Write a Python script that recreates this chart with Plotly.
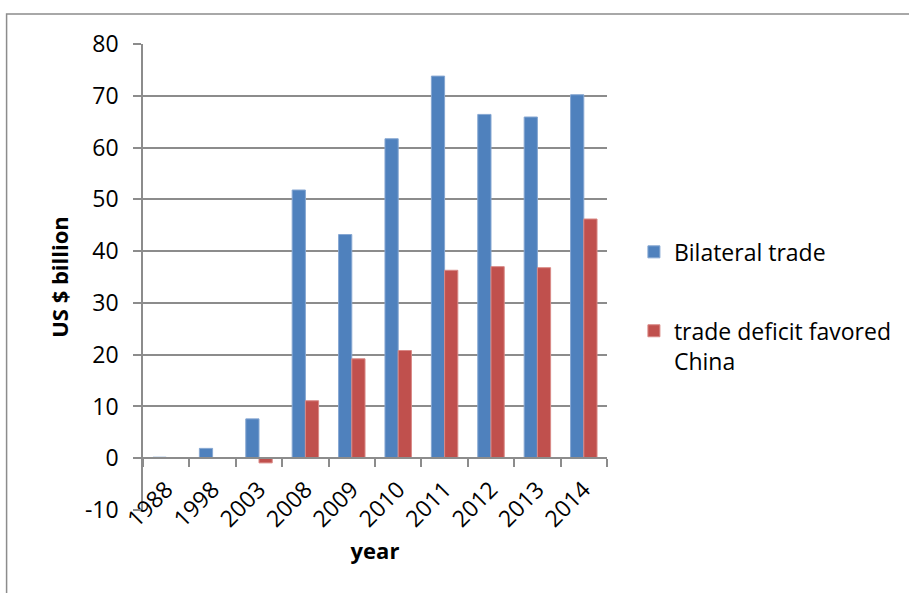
import plotly.graph_objects as go

# Values in US $ billion
years = ["1988", "1998", "2003", "2008", "2009", "2010", "2011", "2012", "2013", "2014"]
bilateral_trade = [0.2, 1.9, 7.6, 51.8, 43.2, 61.7, 73.8, 66.4, 65.9, 70.2]
trade_deficit = [0.0, 0.0, -0.9, 11.1, 19.2, 20.8, 36.3, 37.0, 36.8, 46.2]
y_ticks = [-10, 0, 10, 20, 30, 40, 50, 60, 70, 80]

Y_MIN, Y_MAX = -10, 80
FONT = "'Open Sans', Lato, sans-serif"
FS = 23
GRID = "#8c8c8c"

fig = go.Figure()
fig.add_trace(go.Bar(
    x=years, y=bilateral_trade, name="Bilateral trade",
    marker=dict(color="#4F81BD", line=dict(color="#86a7d2", width=1)),
    legendgroup="a",
))
fig.add_trace(go.Bar(
    x=years, y=trade_deficit, name="trade deficit favored<br>China",
    marker=dict(color="#C0504D", line=dict(color="#d98986", width=1)),
    legendgroup="b",
))

# the category axis sits on the zero line, as in a spreadsheet chart
zero_pos = (0 - Y_MIN) / (Y_MAX - Y_MIN)

fig.update_layout(
    width=909, height=593,
    margin=dict(l=143, r=300, t=44, b=83),
    paper_bgcolor="white", plot_bgcolor="white",
    font=dict(family=FONT, size=FS, color="black"),
    barmode="group", bargap=0.43, bargroupgap=0,
    showlegend=True,
    legend=dict(
        x=1.058, y=0.60, xanchor="left", yanchor="top",
        traceorder="grouped", tracegroupgap=46, valign="top",
        font=dict(family=FONT, size=FS, color="black"),
        bgcolor="rgba(0,0,0,0)",
    ),
    xaxis=dict(
        type="category", anchor="free", position=zero_pos,
        showline=True, linecolor=GRID, linewidth=1.5,
        ticks="outside", ticklen=8, tickwidth=1.5, tickcolor=GRID,
        tickson="boundaries", tickangle=-45,
        ticklabelstandoff=8,
        showgrid=False,
        tickfont=dict(family=FONT, size=FS, color="black"),
        title=dict(text="<b>year</b>", font=dict(family=FONT, size=FS - 1, color="black"), standoff=10),
    ),
    yaxis=dict(
        range=[Y_MIN, Y_MAX], tickvals=y_ticks, ticktext=[str(v) for v in y_ticks],
        showline=True, linecolor=GRID, linewidth=1.5,
        ticks="outside", ticklen=8, tickwidth=1.5, tickcolor=GRID,
        showgrid=True, gridcolor=GRID, gridwidth=1.5,
        zeroline=False,
        ticklabelstandoff=10,
        tickfont=dict(family=FONT, size=FS, color="black"),
        title=dict(text="<b>US $ billion</b>", font=dict(family=FONT, size=FS - 1, color="black"), standoff=10),
    ),
    shapes=[dict(
        type="rect", xref="paper", yref="paper",
        x0=(6 - 143) / 466, x1=(920 - 143) / 466,
        y0=(510 - 610) / 466, y1=1 + (44 - 14) / 466,
        line=dict(color="#8c8c8c", width=1.5), fillcolor="rgba(0,0,0,0)",
        layer="below",
    )],
)

fig.write_html("out.html")
